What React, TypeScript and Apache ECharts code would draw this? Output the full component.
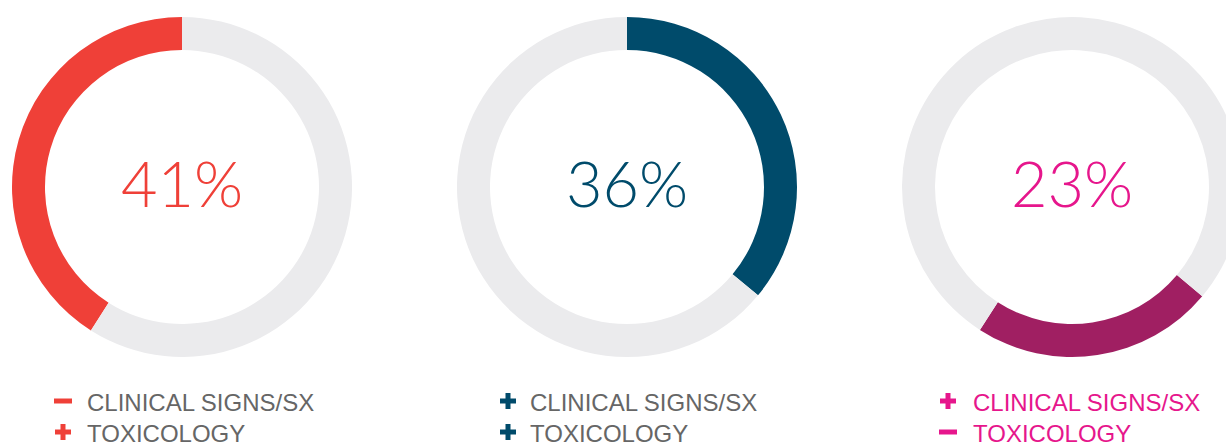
import React, { useEffect, useRef } from "react";
import * as echarts from "echarts";

const percentValues = [41, 36, 23];
const percentLabels = ["41%", "36%", "23%"];
const legendLabels = ["CLINICAL SIGNS/SX", "TOXICOLOGY"];
const legendSigns = [
  ["-", "+"],
  ["+", "+"],
  ["+", "-"],
];
const arcColors = ["#EF4038", "#004B6B", "#A01F62"];
const textColors = ["#EF4038", "#004B6B", "#E6168C"];
const legendTextColors = ["#666666", "#666666", "#E6168C"];
const signColors = ["#EF4038", "#004B6B", "#E6168C"];
const startAngles = [90, 90, 320];
const clockwiseFlags = [false, true, true];

const centersX = [182, 627, 1072];
const centerY = 187;
const legendSymbolX = [63, 508, 948];
const legendTextX = [87, 530, 973];
const legendRowY = [402, 433];

export default function App() {
  const ref = useRef<HTMLDivElement>(null);
  useEffect(() => {
    if (!ref.current) return;
    const chart = echarts.init(ref.current, null, { renderer: "svg" });
    const series = percentValues.map((v, i) => ({
      type: "pie",
      center: [centersX[i], centerY],
      radius: [137, 170],
      startAngle: startAngles[i],
      clockwise: clockwiseFlags[i],
      silent: true,
      label: { show: false },
      labelLine: { show: false },
      emphasis: { disabled: true },
      itemStyle: { borderWidth: 0 },
      data: [
        { value: v, name: "share", itemStyle: { color: arcColors[i] } },
        { value: 100 - v, name: "rest", itemStyle: { color: "#EBEBED" } },
      ],
    }));
    const graphics: any[] = [];
    percentLabels.forEach((t, i) => {
      graphics.push({
        type: "text",
        x: centersX[i],
        y: 182,
        style: {
          text: t,
          fill: textColors[i],
          font: '300 63px "Lato", "Open Sans", sans-serif',
          textAlign: "center",
          textVerticalAlign: "middle",
        },
      });
      legendLabels.forEach((lab, r) => {
        graphics.push({
          type: "text",
          x: legendTextX[i],
          y: legendRowY[r],
          style: {
            text: lab,
            fill: legendTextColors[i],
            font: '24px "Liberation Sans", Arial, sans-serif',
            textAlign: "left",
            textVerticalAlign: "middle",
          },
        });
        const sx = legendSymbolX[i];
        const sy = legendRowY[r] - 1;
        const sign = legendSigns[i][r];
        if (sign === "-") {
          graphics.push({
            type: "rect",
            shape: { x: sx - 9, y: sy - 2.5, width: 18, height: 5 },
            style: { fill: signColors[i] },
          });
        } else {
          graphics.push({
            type: "rect",
            shape: { x: sx - 8, y: sy - 2.5, width: 16, height: 5 },
            style: { fill: signColors[i] },
          });
          graphics.push({
            type: "rect",
            shape: { x: sx - 2.5, y: sy - 8, width: 5, height: 16 },
            style: { fill: signColors[i] },
          });
        }
      });
    });
    chart.setOption({
      animation: false,
      backgroundColor: "#ffffff",
      series,
      graphic: graphics,
    });
    return () => chart.dispose();
  }, []);
  return (
    <div
      ref={ref}
      style={{ position: "fixed", left: 0, top: 0, width: 1226, height: 447 }}
    />
  );
}
